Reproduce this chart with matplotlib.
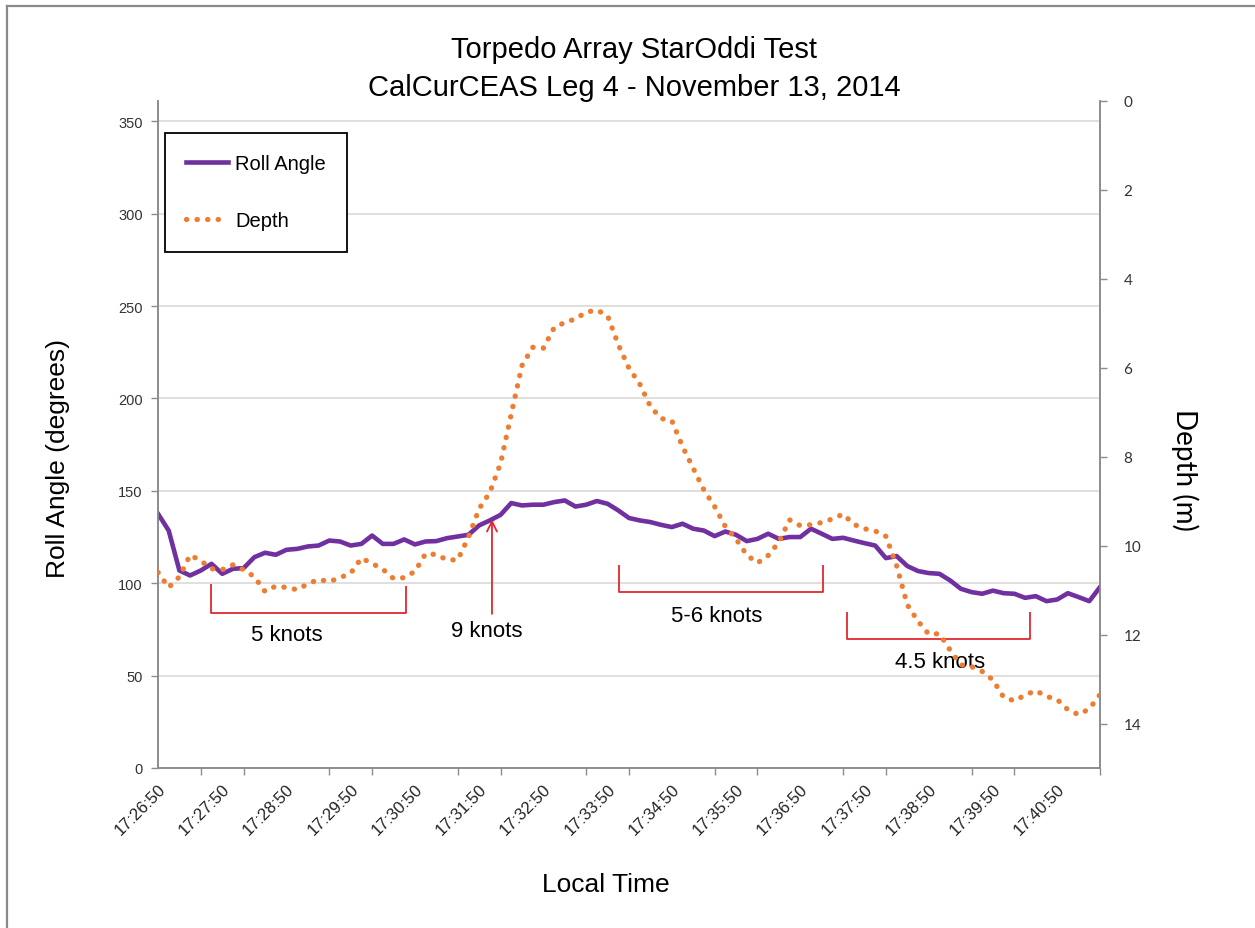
import matplotlib
matplotlib.use("Agg")
import matplotlib.pyplot as plt
from matplotlib.lines import Line2D
from matplotlib.ticker import FixedLocator, MultipleLocator

# ---------------- data ----------------
roll_angle = [137.6, 128.5, 106.9, 104.2, 106.9, 110.5, 105.1, 107.8, 108.2, 114.1,
              116.5, 115.4, 118.1, 118.6, 119.9, 120.4, 123.1, 122.6, 120.4, 121.3,
              125.8, 121.3, 121.3, 123.7, 121.0, 122.6, 122.8, 124.4, 125.3, 126.2,
              131.3, 134.0, 137.0, 143.4, 142.1, 142.5, 142.5, 143.9, 144.8, 141.5,
              142.5, 144.5, 143.0, 139.4, 135.3, 134.0, 133.1, 131.6, 130.4, 132.2,
              129.5, 128.5, 125.5, 128.0, 126.2, 122.8, 124.0, 126.8, 124.0, 125.0,
              125.0, 129.5, 126.8, 124.0, 124.6, 123.1, 121.7, 120.4, 113.6, 114.7,
              109.3, 106.6, 105.5, 105.1, 101.5, 97.0, 95.2, 94.3, 96.0, 94.6,
              94.3, 92.1, 93.0, 90.3, 91.2, 94.6, 92.5, 90.3, 97.9]

depth = [10.60, 10.94, 10.70, 10.21, 10.34, 10.52, 10.54, 10.43, 10.54, 10.70,
         11.03, 10.91, 10.94, 10.99, 10.86, 10.76, 10.81, 10.72, 10.62, 10.28,
         10.40, 10.53, 10.74, 10.72, 10.58, 10.18, 10.20, 10.32, 10.32, 9.81,
         9.17, 8.80, 8.15, 7.04, 5.95, 5.54, 5.56, 5.10, 4.98, 4.90,
         4.75, 4.70, 4.83, 5.48, 6.01, 6.36, 6.87, 7.14, 7.19, 7.77,
         8.26, 8.75, 9.12, 9.57, 9.85, 10.21, 10.39, 10.22, 9.92, 9.42,
         9.55, 9.53, 9.48, 9.40, 9.29, 9.52, 9.62, 9.67, 9.79, 10.45,
         11.33, 11.70, 11.99, 11.98, 12.35, 12.68, 12.72, 12.83, 13.02, 13.41,
         13.49, 13.36, 13.26, 13.39, 13.46, 13.69, 13.80, 13.67, 13.35]

time_labels = ["17:26:50", "17:27:50", "17:28:50", "17:29:50", "17:30:50",
               "17:31:50", "17:32:50", "17:33:50", "17:34:50", "17:35:50",
               "17:36:50", "17:37:50", "17:38:50", "17:39:50", "17:40:50"]

left_ticks = [0, 50, 100, 150, 200, 250, 300, 350]
right_ticks = [0, 2, 4, 6, 8, 10, 12, 14]

# ---------------- styling ----------------
PURPLE = "#7030A0"
ORANGE = "#ED7D31"
RED = "#E0282E"
AXIS_GRAY = "#8C8C8C"
GRID_GRAY = "#D9D9D9"
FONT = "Liberation Sans"
RFONT = "Lato"

plt.rcParams["font.family"] = [FONT, "DejaVu Sans"]

W, H = 1255, 929
fig = plt.figure(figsize=(W / 100, H / 100), dpi=100)
fig.patch.set_facecolor("white")

# figure border (top and left only)
fig.add_artist(Line2D([7 / W, 7 / W], [0, 1 - 7 / H], transform=fig.transFigure,
                      color="#8A8A8A", lw=1.6))
fig.add_artist(Line2D([7 / W, 1], [1 - 7 / H, 1 - 7 / H], transform=fig.transFigure,
                      color="#8A8A8A", lw=1.6))

x0, x1, y0, y1 = 158, 1100, 102, 769
ax = fig.add_axes([x0 / W, 1 - y1 / H, (x1 - x0) / W, (y1 - y0) / H])
ax2 = ax.twinx()

n = len(roll_angle)
xs = list(range(n))

ax.plot(xs, roll_angle, color=PURPLE, lw=3.3, solid_joinstyle="round", zorder=3,
        label="Roll Angle")
ax2.plot(xs, depth, color=ORANGE, lw=3.8, linestyle=(0, (0.05, 1.95)),
         dash_capstyle="round", zorder=3, label="Depth")

# axes limits
ax.set_xlim(0, n - 1)
ax.set_ylim(0, 361)
ax2.set_ylim(15, 0)

# grid
ax.set_yticks(left_ticks)
ax.yaxis.grid(True, color=GRID_GRAY, lw=1.2)
ax.set_axisbelow(True)
ax.set_yticklabels([str(t) for t in left_ticks], fontsize=10.5, color="#333333")
ax.tick_params(axis="y", length=5, width=1, color=AXIS_GRAY, pad=6)

# x ticks: marks every 4 samples, labels every 6 samples
ax.xaxis.set_minor_locator(MultipleLocator(4))
ax.xaxis.set_major_locator(FixedLocator([6 * i for i in range(len(time_labels))]))
ax.set_xticklabels(time_labels, rotation=45, ha="right", rotation_mode="anchor",
                   fontsize=12, color="#222222")
ax.tick_params(axis="x", which="major", length=0, pad=9)
ax.tick_params(axis="x", which="minor", length=5, width=1, color=AXIS_GRAY)

# right axis
ax2.set_yticks(right_ticks)
ax2.set_yticklabels([str(t) for t in right_ticks], fontsize=11, color="#333333",
                    family=RFONT)
ax2.tick_params(axis="y", length=5, width=1, color=AXIS_GRAY, pad=12)

for a in (ax, ax2):
    a.spines["top"].set_visible(False)
    for s in ("left", "right", "bottom"):
        a.spines[s].set_color(AXIS_GRAY)
        a.spines[s].set_linewidth(1.2)

# labels & title
ax.set_ylabel("Roll Angle (degrees)", fontsize=19, va="center")
ax.yaxis.set_label_coords((58 - x0) / (x1 - x0), (y1 - 459) / (y1 - y0))
ax2.set_ylabel("Depth (m)", fontsize=20, family=RFONT, rotation=270, va="center")
ax2.yaxis.set_label_coords((1185 - x0) / (x1 - x0), (y1 - 470) / (y1 - y0))
ax.set_xlabel("Local Time", fontsize=19, va="center")
ax.xaxis.set_label_coords((606 - x0) / (x1 - x0), (y1 - 885) / (y1 - y0))
fig.text((x0 + x1) / 2 / W + 0.004, 1 - 50 / H, "Torpedo Array StarOddi Test",
         ha="center", va="center", fontsize=21)
fig.text((x0 + x1) / 2 / W + 0.004, 1 - 88 / H, "CalCurCEAS Leg 4 - November 13, 2014",
         ha="center", va="center", fontsize=21)

# annotations (in roll-angle axis data coords)
ann_kw = dict(color=RED, lw=1.3, zorder=4, solid_capstyle="butt")
# 5 knots bracket
ax.plot([4.95, 4.95, 23.2, 23.2], [99.7, 84.0, 84.0, 98.6], **ann_kw)
ax.text(12.0, 72.2, "5 knots", ha="center", va="center", fontsize=16)
# 9 knots arrow
ax.annotate("", xy=(31.2, 134.5), xytext=(31.2, 83.4),
            arrowprops=dict(arrowstyle="->", color=RED, lw=1.3,
                            mutation_scale=18, shrinkA=0, shrinkB=0), zorder=4)
ax.text(30.7, 74.4, "9 knots", ha="center", va="center", fontsize=16)
# 5-6 knots bracket
ax.plot([43.1, 43.1, 62.1, 62.1], [109.7, 95.2, 95.2, 109.7], **ann_kw)
ax.text(52.2, 82.5, "5-6 knots", ha="center", va="center", fontsize=16)
# 4.5 knots bracket
ax.plot([64.4, 64.4, 81.5, 81.5], [84.3, 69.9, 69.9, 84.3], **ann_kw)
ax.text(73.1, 57.6, "4.5 knots", ha="center", va="center", fontsize=16, zorder=2)

# legend
handles = [Line2D([], [], color=PURPLE, lw=3.3),
           Line2D([], [], color=ORANGE, lw=3.8, linestyle=(0, (0.05, 1.95)),
                  dash_capstyle="round")]
leg = ax2.legend(handles, ["Roll Angle", "Depth"], loc="upper left",
                 bbox_to_anchor=((165 - x0) / (x1 - x0), (y1 - 134) / (y1 - y0)),
                 borderaxespad=0, fontsize=14.5, frameon=True, fancybox=False,
                 framealpha=1, edgecolor="black", labelspacing=1.9,
                 handlelength=2.1, handletextpad=0.35, borderpad=1.05)
leg.get_frame().set_linewidth(1.3)

fig.savefig("out.png", dpi=100, facecolor="white")
